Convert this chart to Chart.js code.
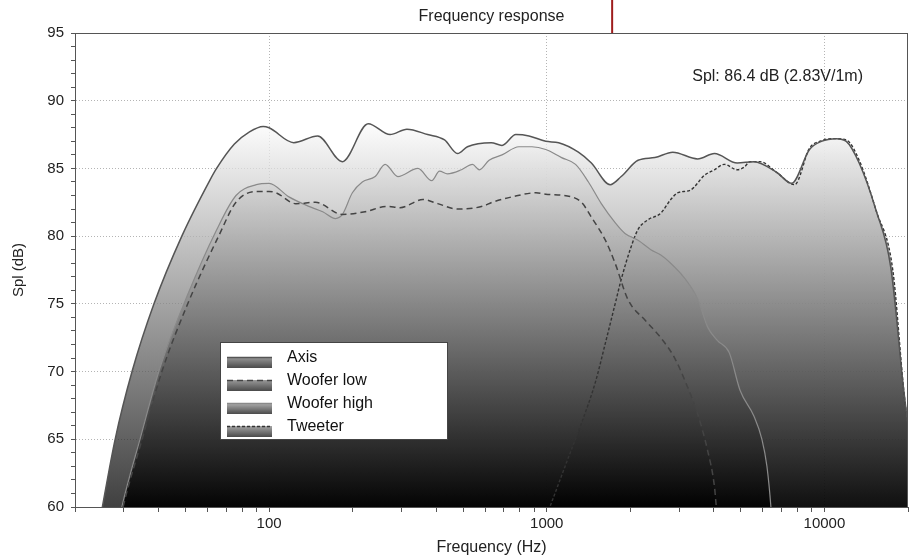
<!DOCTYPE html>
<html>
<head>
<meta charset="utf-8">
<script src="https://cdn.jsdelivr.net/npm/chart.js@4.4.0/dist/chart.umd.min.js"></script>
<style>
  body { margin: 0; background: #fff; }
  #wrap { width: 916px; height: 558px; }
</style>
</head>
<body>
<div id="wrap"><canvas id="fr" width="916" height="558"></canvas></div>
<script>
// values (Hz / dB)
const axisFreq = [20, 22.5, 25.1, 27.9, 32.1, 38.5, 48.5, 61.1, 64.7, 75, 85, 95.2, 100, 122.7, 149.6, 183.6, 227.5, 272.7, 313.6, 372.6, 428.6, 477.3, 518, 631, 690, 774, 863, 992, 1104, 1300, 1448, 1693, 1854, 2132, 2451, 2843, 3493, 4018, 4853, 5577, 6739, 7623, 8837, 9750, 11030, 11990, 13340, 15350, 17340, 19310, 20000];
const axisSpl = [48, 54.5, 60, 65, 70.0, 75.0, 80.0, 84.1, 85.0, 86.8, 87.7, 88.1, 88.0, 86.9, 87.4, 85.5, 88.3, 87.5, 87.9, 87.5, 87.1, 86.1, 86.6, 86.9, 86.7, 87.5, 87.4, 87.0, 86.9, 86.2, 85.4, 83.8, 84.4, 85.6, 85.8, 86.2, 85.7, 86.1, 85.4, 85.5, 84.7, 83.9, 86.4, 87.0, 87.2, 87.0, 85.4, 81.9, 77.7, 68.6, 66];

const wooferLowFreq = [22, 26, 29.8, 34.9, 41.1, 51.4, 65.8, 76, 90, 100, 106, 124.8, 147, 183.6, 221.7, 266, 296, 358, 405, 477, 586, 636, 750, 914, 992, 1228, 1334, 1448, 1626, 1763, 1963, 2258, 2575, 2889, 3135, 3490, 3793, 4018, 4080, 4400];
const wooferLowSpl = [47, 54, 60, 65, 70, 75.2, 80, 82.5, 83.3, 83.3, 83.2, 82.4, 82.5, 81.6, 81.8, 82.2, 82.1, 82.7, 82.4, 82.0, 82.2, 82.5, 82.9, 83.2, 83.1, 82.9, 82.5, 81.4, 79.7, 78.0, 75.3, 73.8, 72.5, 71.0, 69.4, 66.9, 64.2, 61.5, 60, 52];

const wooferHighFreq = [22, 26, 29.5, 34.5, 40.5, 50.5, 64.5, 76, 90, 100, 117.9, 139, 156, 173.5, 183.6, 199.5, 216.6, 241, 261.7, 291, 343.5, 385.5, 411, 439, 493, 540, 572, 620, 690, 794, 884, 992, 1131, 1270, 1413, 1572, 1763, 1914, 2132, 2371, 2575, 2795, 3135, 3490, 3793, 4113, 4539, 4971, 5577, 5956, 6209, 6417, 6800];
const wooferHighSpl = [48, 54.5, 60, 65.2, 70.3, 75.5, 80.4, 83.0, 83.8, 83.9, 82.9, 82.2, 81.8, 81.3, 81.6, 83.2, 84.0, 84.4, 85.3, 84.4, 85.0, 84.1, 84.8, 84.6, 84.9, 85.3, 84.9, 85.6, 86.0, 86.6, 86.6, 86.4, 85.8, 85.3, 84.0, 82.4, 81.0, 80.2, 79.7, 79.0, 78.6, 78.0, 76.9, 75.4, 73.3, 72.3, 71.4, 68.6, 66.7, 65.0, 63.0, 60.0, 52];

const tweeterFreq = [900, 1026, 1199, 1334, 1496, 1626, 1778, 1854, 2012, 2132, 2312, 2575, 2795, 2958, 3293, 3700, 4018, 4355, 4853, 5144, 5400, 5860, 6739, 7810, 8837, 9595, 10860, 11990, 13340, 15350, 17630, 19310, 20000];
const tweeterSpl = [57, 60, 63.7, 66.2, 69.2, 72.1, 75.3, 76.8, 79.2, 80.5, 81.2, 81.7, 82.7, 83.2, 83.4, 84.5, 84.9, 85.3, 84.9, 85.1, 85.5, 85.5, 84.7, 83.8, 86.5, 87.0, 87.2, 87.1, 85.6, 81.9, 77.5, 68.6, 66];

const xTicks = [20, 30, 40, 50, 60, 70, 80, 90, 100, 200, 300, 400, 500, 600, 700, 800, 900, 1000, 2000, 3000, 4000, 5000, 6000, 7000, 8000, 9000, 10000, 20000];
const xLabels = [100, 1000, 10000];
const chartTitle = 'Frequency response';
const sensitivity = 'Spl: 86.4 dB (2.83V/1m)';
const cursorFreq = 1720;

const FONT = "'Liberation Sans', Arial, Helvetica, sans-serif";

function pts(xs, ys) {
  return xs.map((x, i) => ({ x: x, y: ys[i] }));
}

function shade(ctx) {
  const area = ctx.chart.chartArea;
  if (!area) return 'rgba(128,128,128,0.75)';
  const g = ctx.chart.ctx.createLinearGradient(0, area.top, 0, area.bottom);
  g.addColorStop(0, 'rgba(255,255,255,0.75)');
  g.addColorStop(0.18, 'rgba(255,255,255,0.75)');
  g.addColorStop(1, 'rgba(0,0,0,0.75)');
  return g;
}

const extras = {
  id: 'extras',
  afterDatasetsDraw(chart) {
    const c = chart.ctx;
    const a = chart.chartArea;
    c.save();
    // plot frame
    c.strokeStyle = '#555';
    c.lineWidth = 1;
    c.strokeRect(a.left + 0.5, a.top + 0.5, a.right - a.left - 1, a.bottom - a.top);

    // title, centred on the plot
    c.fillStyle = '#222';
    c.font = '16px ' + FONT;
    c.textAlign = 'center';
    c.textBaseline = 'middle';
    c.fillText(chartTitle, (a.left + a.right) / 2, 17);

    // cursor marker above the plot
    const cx = chart.scales.x.getPixelForValue(cursorFreq);
    c.strokeStyle = '#9e1c1c';
    c.lineWidth = 2;
    c.beginPath();
    c.moveTo(cx, 0);
    c.lineTo(cx, a.top);
    c.stroke();

    // sensitivity note
    c.fillStyle = '#222';
    c.textAlign = 'right';
    c.textBaseline = 'alphabetic';
    c.fillText(sensitivity, 863, 81);

    // legend box
    const bx = 220, by = 342, bw = 227, bh = 97;
    c.fillStyle = '#fff';
    c.fillRect(bx, by, bw, bh);
    c.strokeStyle = '#444';
    c.lineWidth = 1;
    c.strokeRect(bx + 0.5, by + 0.5, bw, bh);
    chart.data.datasets.forEach((ds, i) => {
      const ry = by + 15 + i * 23;
      const sx = bx + 7, sw = 45, sh = 11;
      const g = c.createLinearGradient(0, ry, 0, ry + sh);
      g.addColorStop(0, ds.swatchTop);
      g.addColorStop(1, '#4a4a4a');
      c.fillStyle = g;
      c.fillRect(sx, ry, sw, sh);
      c.strokeStyle = ds.borderColor;
      c.lineWidth = 1.5;
      c.setLineDash(ds.borderDash || []);
      c.beginPath();
      c.moveTo(sx, ry + 0.5);
      c.lineTo(sx + sw, ry + 0.5);
      c.stroke();
      c.setLineDash([]);
      c.fillStyle = '#111';
      c.textAlign = 'left';
      c.textBaseline = 'middle';
      c.fillText(ds.label, bx + 67, ry + 1);
    });
    c.restore();
  }
};

new Chart(document.getElementById('fr'), {
  type: 'line',
  data: {
    datasets: [
      {
        label: 'Axis',
        data: pts(axisFreq, axisSpl),
        borderColor: '#555',
        borderWidth: 1.5,
        backgroundColor: shade,
        swatchTop: '#9a9a9a',
        fill: 'start'
      },
      {
        label: 'Woofer low',
        data: pts(wooferLowFreq, wooferLowSpl),
        borderColor: '#444',
        borderWidth: 1.5,
        borderDash: [6, 4],
        backgroundColor: shade,
        swatchTop: '#9a9a9a',
        fill: 'start'
      },
      {
        label: 'Woofer high',
        data: pts(wooferHighFreq, wooferHighSpl),
        borderColor: '#8a8a8a',
        borderWidth: 1.2,
        backgroundColor: shade,
        swatchTop: '#b0b0b0',
        fill: 'start'
      },
      {
        label: 'Tweeter',
        data: pts(tweeterFreq, tweeterSpl),
        borderColor: '#333',
        borderWidth: 1.4,
        borderDash: [3, 2],
        backgroundColor: shade,
        swatchTop: '#a5a5a5',
        fill: 'start'
      }
    ]
  },
  options: {
    responsive: false,
    animation: false,
    layout: { padding: { left: 0, right: 8, top: 33, bottom: 0 } },
    elements: {
      point: { radius: 0 },
      line: { cubicInterpolationMode: 'monotone' }
    },
    plugins: {
      legend: { display: false },
      tooltip: { enabled: false },
      filler: { drawTime: 'beforeDatasetsDraw' },
      title: { display: false }
    },
    scales: {
      x: {
        type: 'logarithmic',
        min: 20,
        max: 20000,
        afterBuildTicks: (scale) => {
          scale.ticks = xTicks.map(v => ({ value: v }));
        },
        afterFit: (scale) => { scale.height = 51; },
        ticks: {
          autoSkip: false,
          maxRotation: 0,
          padding: 3,
          color: '#222',
          font: { family: FONT, size: 15 },
          callback: (v) => xLabels.includes(v) ? String(v) : ''
        },
        grid: {
          color: (ctx) => (ctx.tick && xLabels.includes(ctx.tick.value)) ? '#b4b4b4' : 'rgba(0,0,0,0)',
          tickColor: '#555',
          tickLength: 5
        },
        border: { color: '#555', width: 1, dash: [1, 2] },
        title: {
          display: true,
          text: 'Frequency (Hz)',
          color: '#222',
          font: { family: FONT, size: 16 },
          padding: { top: 2, bottom: 1 }
        }
      },
      y: {
        type: 'linear',
        min: 60,
        max: 95,
        afterFit: (scale) => { scale.width = 75; },
        ticks: {
          stepSize: 1,
          autoSkip: false,
          padding: 7,
          color: '#222',
          font: { family: FONT, size: 15 },
          callback: (v) => v % 5 === 0 ? String(v) : ''
        },
        grid: {
          color: (ctx) => {
            const v = ctx.tick ? ctx.tick.value : 0;
            return (v % 5 === 0 && v > 60 && v < 95) ? '#b4b4b4' : 'rgba(0,0,0,0)';
          },
          tickColor: '#555',
          tickLength: 4
        },
        border: { color: '#555', width: 1, dash: [1, 2] },
        title: {
          display: true,
          text: 'Spl (dB)',
          color: '#222',
          font: { family: FONT, size: 15 },
          padding: { top: 10, bottom: 0 }
        }
      }
    }
  },
  plugins: [extras]
});
</script>
</body>
</html>
